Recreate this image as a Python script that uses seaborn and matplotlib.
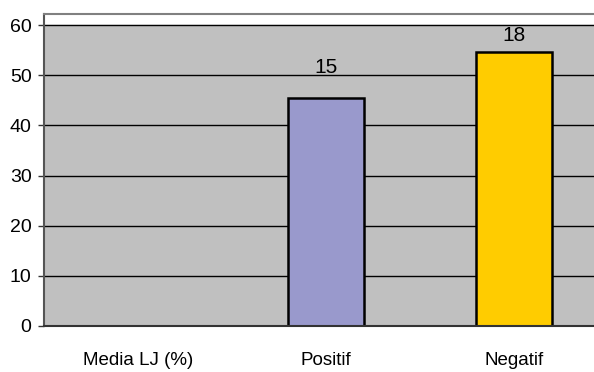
import numpy as np
import pandas as pd
import matplotlib
matplotlib.use("Agg")
import matplotlib.pyplot as plt
from matplotlib import font_manager
import seaborn as sns

categories = ["Media LJ (%)", "Positif", "Negatif"]
percentages = [np.nan, 45.45, 54.55]
counts = ["", "15", "18"]
bar_colors = ["#9999CC", "#9999CC", "#FFCC00"]
label_offsets_pt = [0, 15, 5.5]
y_ticks = [0, 10, 20, 30, 40, 50, 60]

sns.set_theme(style="white")
names = {f.name for f in font_manager.fontManager.ttflist}
family = "Liberation Sans Narrow" if "Liberation Sans Narrow" in names else "Liberation Sans"
plt.rcParams["font.family"] = [family, "DejaVu Sans"]

df = pd.DataFrame({"cat": categories, "pct": percentages})

fig = plt.figure(figsize=(5.94, 3.72), dpi=100)
ax = fig.add_axes([44 / 594, 1 - 326 / 372, (608 - 44) / 594, (326 - 14) / 372])
ax.set_facecolor("white")

# gray plot area up to 60
ax.axhspan(0, 60, color="#C0C0C0", zorder=0)
for v in y_ticks[1:]:
    ax.axhline(v, color="black", lw=1.0, zorder=1)

sns.barplot(data=df, x="cat", y="pct", hue="cat", palette=bar_colors,
            saturation=1, legend=False, width=0.4, edgecolor="black",
            linewidth=1.8, ax=ax, zorder=2)

for i, (v, c, off) in enumerate(zip(percentages, counts, label_offsets_pt)):
    if c:
        ax.annotate(c, (i, v), xytext=(0, off), textcoords="offset points",
                    ha="center", va="bottom", fontsize=15, color="black")

ax.set_xlim(-0.5, 2.5)
ax.set_ylim(0, 62.2)
ax.set_yticks(y_ticks)
ax.set_yticklabels([str(t) for t in y_ticks], fontsize=14, color="black")
ax.set_xticks(range(len(categories)))
ax.set_xticklabels(categories, fontsize=13.5, color="black")
ax.set_xticks([-0.5, 0.5, 1.5, 2.5], minor=True)
ax.tick_params(axis="x", which="major", length=0, pad=19)
ax.tick_params(axis="x", which="minor", length=5, width=1, color="#333333", direction="out")
ax.tick_params(axis="y", which="major", length=4, width=1, color="#333333", direction="out", pad=5, left=True)
ax.set_xlabel("")
ax.set_ylabel("")

for s in ["top", "right"]:
    ax.spines[s].set_color("#808080")
    ax.spines[s].set_linewidth(1.5)
ax.spines["left"].set_color("#555555")
ax.spines["left"].set_linewidth(1.5)
ax.spines["bottom"].set_color("#333333")
ax.spines["bottom"].set_linewidth(1.5)

fig.savefig("out.png", dpi=100)
